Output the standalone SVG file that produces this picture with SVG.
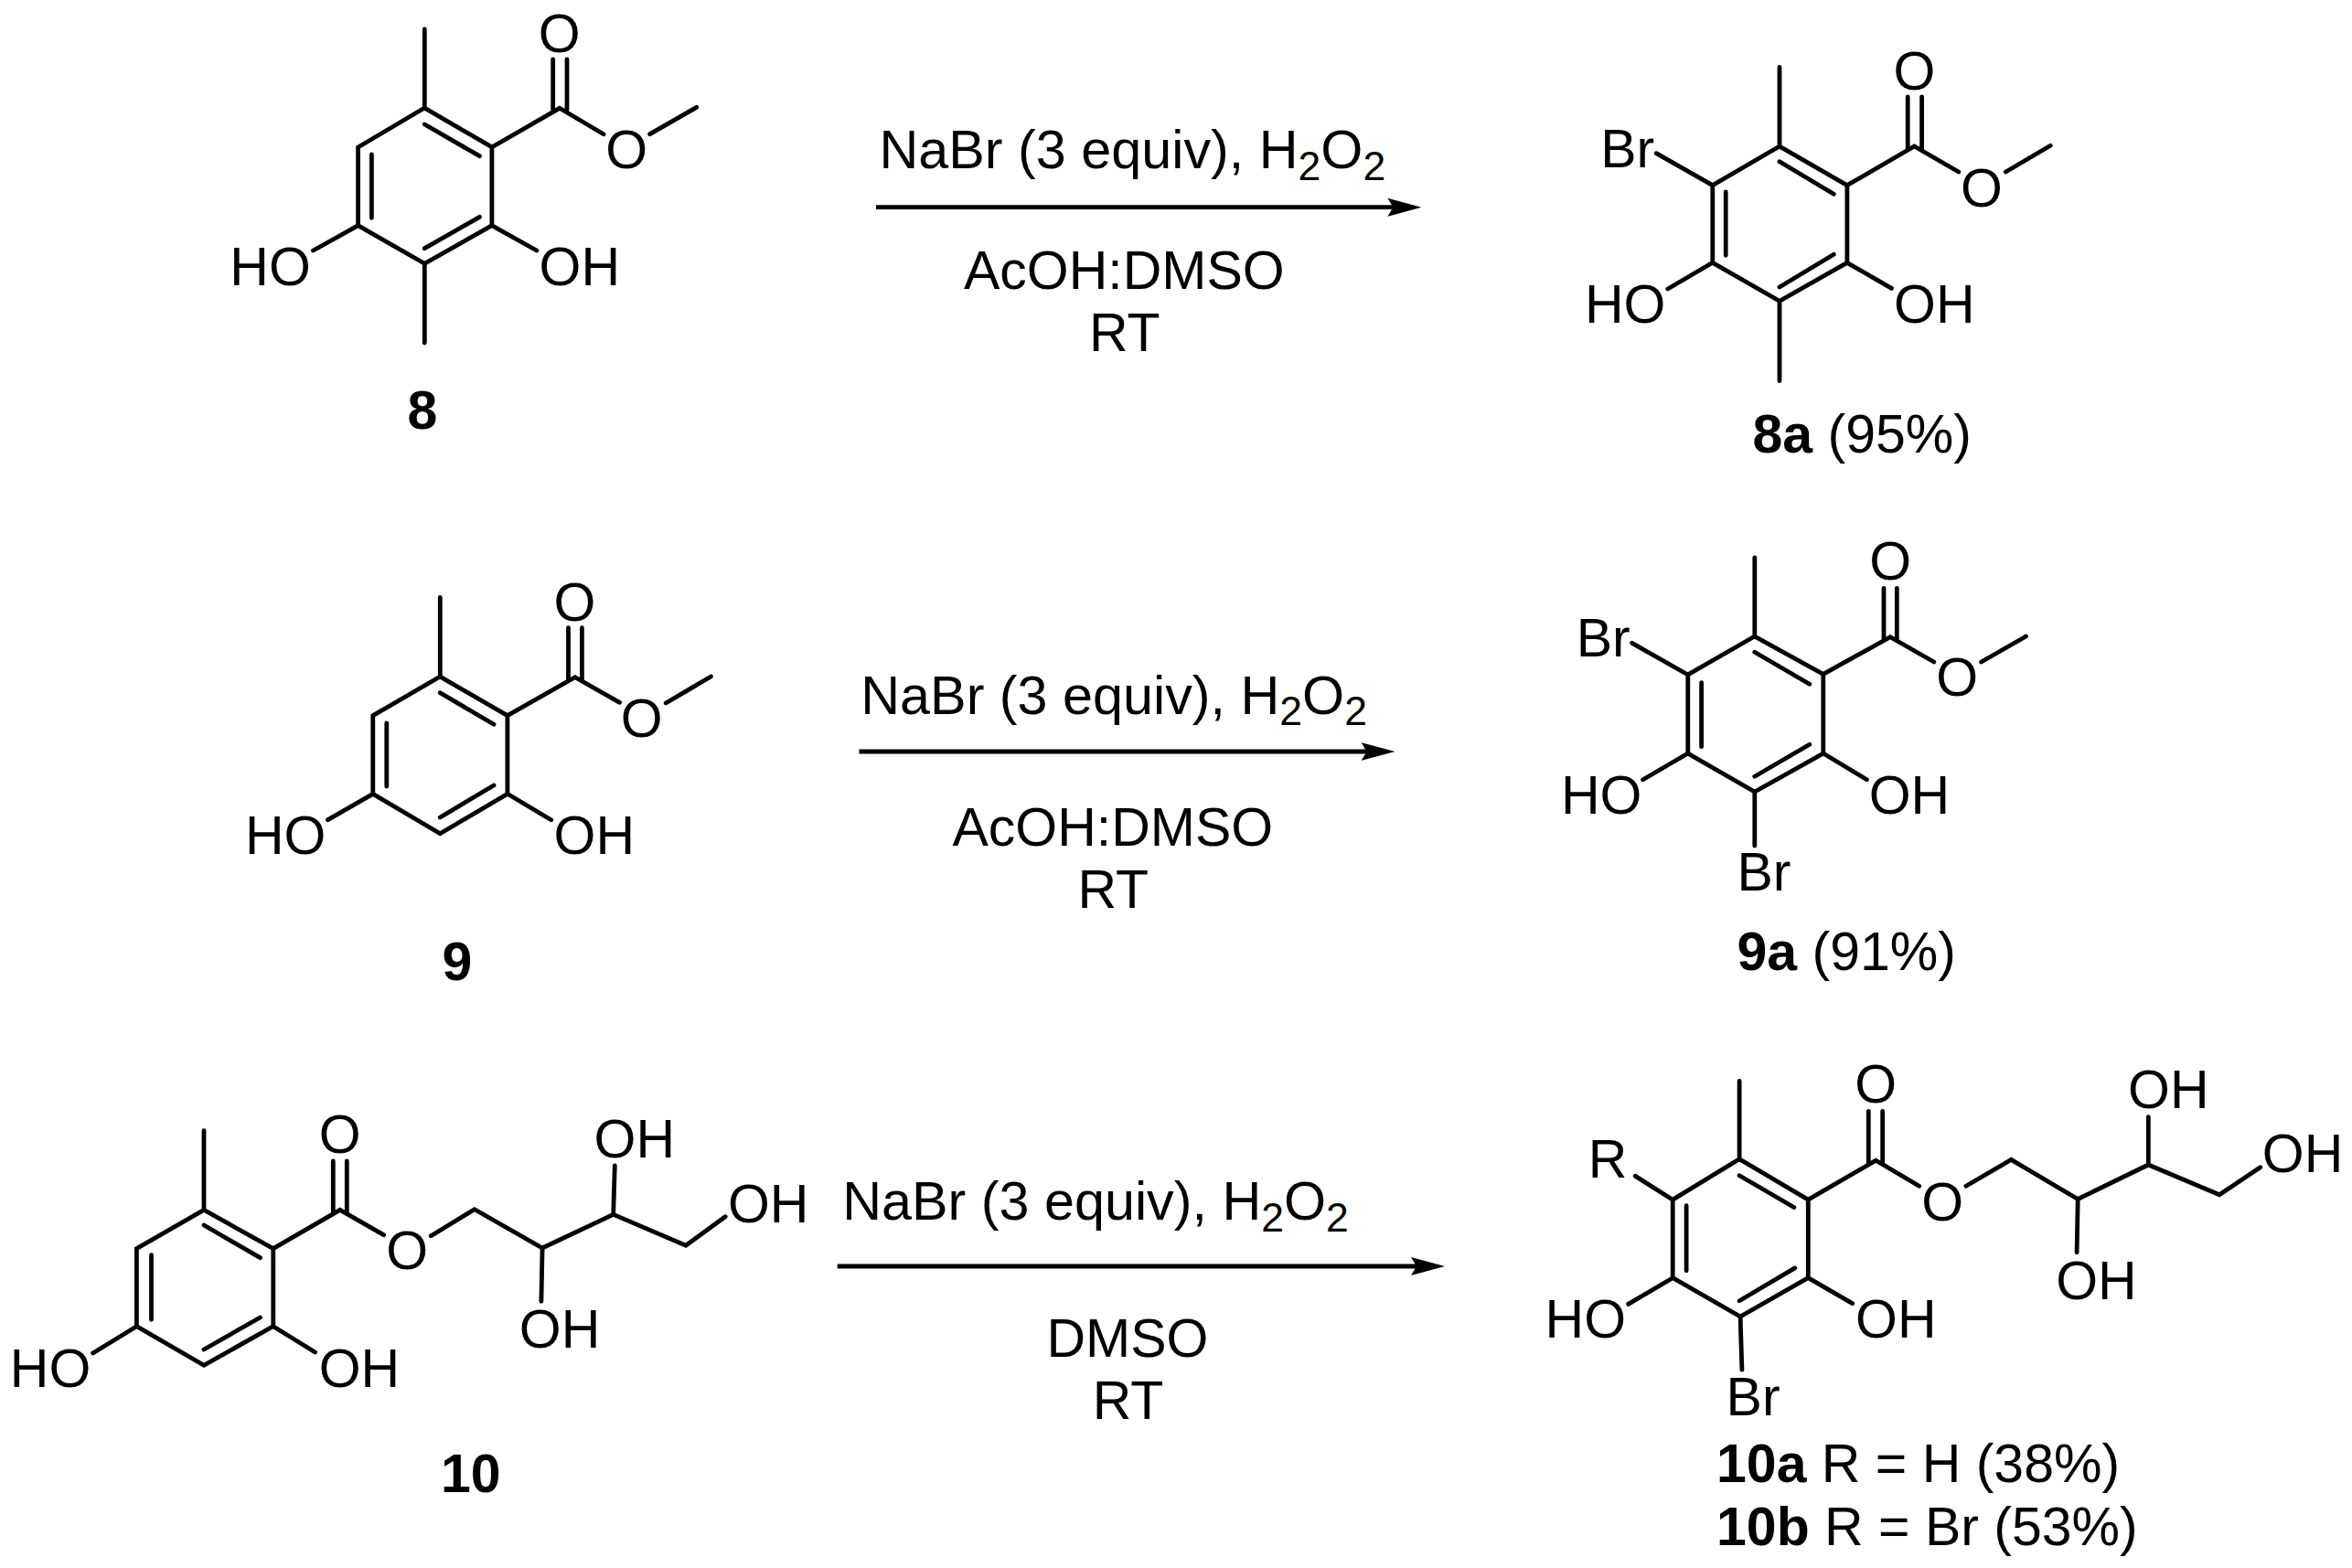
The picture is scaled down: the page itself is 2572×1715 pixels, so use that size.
<svg xmlns="http://www.w3.org/2000/svg" width="2572" height="1715" viewBox="0 0 2572 1715">
<defs>
<style>
text{font-family:"Liberation Sans",Arial,sans-serif;font-size:59px;fill:#000}
.b{font-weight:bold}
.r{font-size:59.3px}
.s{font-size:44.5px}
.bond{fill:none;stroke:#000;stroke-width:4.8;stroke-linecap:round;stroke-linejoin:miter}
.arrow{fill:none;stroke:#000;stroke-width:4.8}
</style>
<marker id="head" markerUnits="userSpaceOnUse" markerWidth="40" markerHeight="24" refX="6" refY="11" orient="auto">
<path d="M0 1L37 11L0 21L6 11Z" fill="#000"/>
</marker>
</defs>
<rect width="2572" height="1715" fill="#fff"/>

<g id="compound-8">
<path class="bond" d="M464.3 32V118L537.9 161V246.7L464.3 288.3L391.6 246.7V161L464.3 118M464.3 288.3V375M537.9 161L611.9 118.3L660 146.7M710.7 146.7L761.7 117.3M604.7 65V120M620 65V120M464.3 136L524.4 170.7M406.4 169V238.3M464.3 271.7L524.4 237.3M537.9 246.7L586.9 274M391.6 246.7L342.5 274"/>
<text x="611.7" y="57" text-anchor="middle">O</text>
<text x="685.3" y="184" text-anchor="middle">O</text>
<text x="251.3" y="312.3">HO</text>
<text x="589.6" y="312.3">OH</text>
<text class="b" x="462" y="469" text-anchor="middle">8</text>
</g>

<g id="compound-8a">
<path class="bond" d="M1946 73.3V160L2019.9 202.7V287.3L1946 329.3L1872.8 287.3V202.7L1946 160M1946 329.3V416.7M2019.9 202.7L2093.4 160L2141.8 188M2193.4 188L2242.2 159.3M2086.2 106V162.7M2101.6 106V162.7M1946 176.7L2005.3 212.3M1887.2 210V279.3M1946 314L2005.3 278.3M2019.9 287.3L2068.5 315.3M1872.8 287.3L1823.8 316M1872.8 202.7L1811.2 167.7"/>
<text x="2093.4" y="97.5" text-anchor="middle">O</text>
<text x="2167" y="225.5" text-anchor="middle">O</text>
<text x="1750.2" y="183.3">Br</text>
<text x="1733" y="352.7">HO</text>
<text x="2071" y="352.7">OH</text>
<text x="1916.5" y="495"><tspan class="b">8a</tspan> (95%)</text>
</g>

<g id="compound-9">
<path class="bond" d="M481.3 653.3V740L554.9 782.7V868.3L481.3 911.7L407.8 868.3V782.7L481.3 740M554.9 782.7L628.8 740.7L677.5 768.3M728.2 769L777.4 740M621.5 686.7V743M636.4 686.7V743M481.3 757.7L540 792.3M422.8 791V860M481.3 894L540 859M554.9 868.3L602.7 896.7M407.8 868.3L358.6 896.7"/>
<text x="628.5" y="678.5" text-anchor="middle">O</text>
<text x="701.6" y="805.5" text-anchor="middle">O</text>
<text x="268" y="934">HO</text>
<text x="605.6" y="934">OH</text>
<text class="b" x="500" y="1072" text-anchor="middle">9</text>
</g>

<g id="compound-9a">
<path class="bond" d="M1918.8 610V696L1993.8 737.3V824L1918.8 866L1845.8 824V738L1918.8 696M1918.8 866V925M1993.8 737.3L2067.1 696.7L2114.8 724M2166.6 724L2215.5 696M2060 643.3V700M2074.3 643.3V700M1918.8 713.3L1978.8 748.3M1860.6 746.7V816.7M1918.8 849.3L1978.8 814.3M1993.8 824L2041.4 852.7M1845.8 824L1796.6 852.7M1845.8 738L1784.7 703.3"/>
<text x="2067.1" y="633.5" text-anchor="middle">O</text>
<text x="2140.2" y="761" text-anchor="middle">O</text>
<text x="1723.7" y="718.3">Br</text>
<text x="1707" y="890">HO</text>
<text x="2043.7" y="890">OH</text>
<text x="1899.5" y="974.3">Br</text>
<text x="1899.5" y="1061"><tspan class="b">9a</tspan> (91%)</text>
</g>

<g id="compound-10">
<path class="bond" d="M223 1236.7V1323.3L298.8 1365.7V1450.7L223 1493.3L149.4 1450.7V1365.7L223 1323.3M298.8 1365.7L371.8 1323.3L419.5 1350.7M471.3 1351.7L518.9 1322.7L593.1 1365L670.7 1328.3L750 1362.3L793.1 1330.7M670.7 1328.3L672.3 1275M593.1 1365L591.9 1423.3M364.3 1270V1326.7M379.3 1270V1326.7M223 1340L284.5 1375.7M165.5 1372.7V1443.3M223 1476L284.5 1441M298.8 1450.7L344.6 1479M149.4 1450.7L101.6 1480"/>
<text x="371.8" y="1260.5" text-anchor="middle">O</text>
<text x="445.2" y="1388" text-anchor="middle">O</text>
<text x="649.5" y="1266">OH</text>
<text x="795.9" y="1336.7">OH</text>
<text x="567.8" y="1474">OH</text>
<text x="10.8" y="1517.3">HO</text>
<text x="348.7" y="1517.3">OH</text>
<text class="b" x="482" y="1631.7">10</text>
</g>

<g id="compound-10ab">
<path class="bond" d="M1902.1 1182.3V1267.7L1977.3 1312.2V1397.7L1903.1 1440L1829.2 1397.7V1312.2L1902.1 1267.7M1903.1 1440L1904.9 1498.2M1977.3 1312.2L2051.3 1269.2L2098.7 1297.2M2149.9 1297.2L2199.3 1268.4L2272.2 1311.5L2349.3 1274L2427 1306.7L2471.7 1276.7M2349.3 1274L2349.3 1221.7M2272.2 1311.5L2271.1 1369.7M2043.3 1215.3V1272M2058.7 1215.3V1272M1902.1 1285.7L1961.8 1320.5M1844.1 1318.7V1389.8M1902.1 1422.8L1962.8 1386.9M1977.3 1397.7L2025.6 1425.7M1829.2 1397.7L1780.6 1426.4M1829.2 1312.2L1788.3 1286.4"/>
<text x="2051.3" y="1205.6" text-anchor="middle">O</text>
<text x="2124.2" y="1334.9" text-anchor="middle">O</text>
<text x="2327.1" y="1212.3">OH</text>
<text x="2473.8" y="1281.7">OH</text>
<text x="2248.2" y="1421">OH</text>
<text x="1736.8" y="1288.2">R</text>
<text x="1689.6" y="1463.4">HO</text>
<text x="2029" y="1463.4">OH</text>
<text x="1887.6" y="1547.7">Br</text>
<text x="1877" y="1621"><tspan class="b">10a</tspan> R = H (38%)</text>
<text x="1877" y="1690.2"><tspan class="b">10b</tspan> R = Br (53%)</text>
</g>

<g id="connectors">
<path class="arrow" d="M958 226.7H1523.4" marker-end="url(#head)"/>
<path class="arrow" d="M939.5 822H1494.5" marker-end="url(#head)"/>
<path class="arrow" d="M915.7 1385H1549" marker-end="url(#head)"/>
</g>

<g id="reaction-1-conditions">
<text class="r" x="961.5" y="184.3">NaBr (3 equiv), H<tspan class="s" dy="12.4">2</tspan><tspan dy="-12.4">O</tspan><tspan class="s" dy="12.4">2</tspan></text>
<text x="1054" y="316">AcOH:DMSO</text>
<text x="1191" y="384">RT</text>
</g>
<g id="reaction-2-conditions">
<text class="r" x="941.3" y="781">NaBr (3 equiv), H<tspan class="s" dy="12">2</tspan><tspan dy="-12">O</tspan><tspan class="s" dy="12">2</tspan></text>
<text x="1041.5" y="925">AcOH:DMSO</text>
<text x="1178.5" y="993">RT</text>
</g>
<g id="reaction-3-conditions">
<text class="r" x="921.2" y="1334.3">NaBr (3 equiv), H<tspan class="s" dy="12.7">2</tspan><tspan dy="-12.7">O</tspan><tspan class="s" dy="12.7">2</tspan></text>
<text x="1144.5" y="1484.3">DMSO</text>
<text x="1194.7" y="1552.3">RT</text>
</g>
</svg>
